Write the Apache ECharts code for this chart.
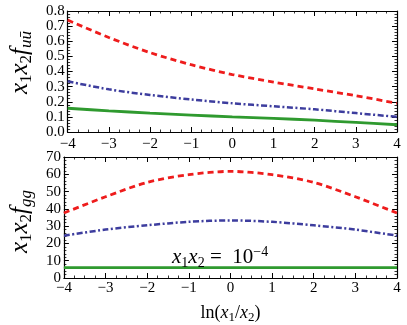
<!DOCTYPE html>
<html><head><meta charset="utf-8">
<script src="https://cdn.jsdelivr.net/npm/echarts@6/dist/echarts.min.js"></script>
<style>html,body{margin:0;padding:0;background:#fff}#c{width:407px;height:325px}</style>
</head><body><div id="c"></div>
<script>
// ---- data ----
const xVals = [-4, -3, -2, -1, 0, 1, 2, 3, 4];
const uuRed   = [0.74, 0.625, 0.525, 0.445, 0.38, 0.33, 0.285, 0.24, 0.19];
const uuBlue  = [0.335, 0.282, 0.245, 0.215, 0.19, 0.17, 0.15, 0.125, 0.10];
const uuGreen = [0.157, 0.14, 0.125, 0.112, 0.10, 0.09, 0.078, 0.063, 0.048];
const ggRed   = [37.6, 47, 55.3, 59.8, 61.7, 59.8, 55.3, 47, 37.6];
const ggBlue  = [24.5, 28, 30.5, 32.5, 33.3, 32.5, 30.5, 28, 24.5];
const ggGreen = [6, 6, 6, 6, 6, 6, 6, 6, 6];
const xRange = [-4, 4];
const uuRange = [0, 0.8];
const ggRange = [0, 70];

// ---- styling ----
const FONT = 'Liberation Serif';
const RED = '#ee1c1c', BLUE = '#3d3d9e', GREEN = '#2f9a2f';
const fmtMinus = v => String(v).replace('-', '\u2212');
const mathRich = (main, sub) => ({
  n: {fontFamily: FONT, fontSize: main, lineHeight: main + 4, color: '#000', verticalAlign: 'middle'},
  i: {fontFamily: FONT, fontStyle: 'italic', fontSize: main, lineHeight: main + 4, color: '#000', verticalAlign: 'middle'},
  s: {fontFamily: FONT, fontStyle: 'italic', fontSize: sub, lineHeight: sub, color: '#000', verticalAlign: 'bottom'},
  sn: {fontFamily: FONT, fontSize: sub, lineHeight: sub, color: '#000', verticalAlign: 'bottom'},
  p: {fontFamily: FONT, fontSize: sub, lineHeight: sub, color: '#000', verticalAlign: 'top'}
});
const axLine = {show: true, onZero: false, lineStyle: {color: '#000', width: 1.2}};
const tick = {show: true, inside: true, length: 5, lineStyle: {color: '#000', width: 1}};
const minor = n => ({show: true, splitNumber: n, length: 2.5, lineStyle: {color: '#000', width: 0.8}});

function xAxis(grid, pos, labels, margin, name) {
  return {
    type: 'value', gridIndex: grid, position: pos, min: xRange[0], max: xRange[1], interval: 1,
    axisLine: axLine, axisTick: tick, minorTick: minor(4), splitLine: {show: false},
    axisLabel: {show: labels, margin: margin, fontFamily: FONT, fontSize: 15, color: '#000', formatter: fmtMinus},
    name: name || '', nameLocation: 'middle', nameGap: 24,
    nameTextStyle: {rich: mathRich(18, 13)}
  };
}
function yAxis(grid, pos, labels, range, interval, dec, name, pad) {
  return {
    type: 'value', gridIndex: grid, position: pos, min: range[0], max: range[1], interval: interval,
    axisLine: axLine, axisTick: tick, minorTick: minor(5), splitLine: {show: false},
    axisLabel: {show: labels, margin: 3, fontFamily: FONT, fontSize: 15, color: '#000',
      formatter: v => v.toFixed(dec)},
    name: name || '', nameLocation: 'middle', nameGap: 26, nameRotate: 90,
    nameTextStyle: {rich: mathRich(25, 17), padding: pad || 0}
  };
}
const pairs = ys => xVals.map((x, k) => [x, ys[k]]);
function line(data, xi, yi, color, type, width) {
  return {type: 'line', xAxisIndex: xi, yAxisIndex: yi, data: pairs(data), smooth: 0.3,
    showSymbol: false, symbol: 'none',
    lineStyle: {color: color, width: width, type: type}, z: 3};
}

const chart = echarts.init(document.getElementById('c'), null, {renderer: 'canvas'});
chart.setOption({
  animation: false,
  backgroundColor: '#fff',
  grid: [
    {left: 49, right: 10, top: 11, height: 121},
    {left: 49, right: 10, top: 157, height: 123}
  ],
  xAxis: [
    xAxis(0, 'bottom', true, 5),
    xAxis(0, 'top', false, 3),
    xAxis(1, 'bottom', true, 3, '{n|ln(}{i|x}{sn|1}{n|/}{i|x}{sn|2}{n|)}'),
    xAxis(1, 'top', false, 3)
  ],
  yAxis: [
    yAxis(0, 'left', true, uuRange, 0.1, 1, '{i|x}{sn|1}{i|x}{sn|2}{i|f}{s|u\u016B}', [0, 0, 0, 18]),
    yAxis(0, 'right', false, uuRange, 0.1, 1),
    yAxis(1, 'left', true, ggRange, 10, 0, '{i|x}{sn|1}{i|x}{sn|2}{i|f}{s|gg}', [0, 8, 0, 0]),
    yAxis(1, 'right', false, ggRange, 10, 0)
  ],
  graphic: [{
    type: 'text', left: 172, top: 245, z: 10,
    style: {text: '{i|x}{sn|1}{i|x}{sn|2}{n| =  10}{p|\u22124}', rich: mathRich(21, 14)}
  }],
  series: [
    line(uuRed, 0, 0, RED, [6, 4], 2.8),
    line(uuBlue, 0, 0, BLUE, [6, 2.5, 2, 2.5], 2.5),
    line(uuGreen, 0, 0, GREEN, 'solid', 2.8),
    line(ggRed, 2, 2, RED, [6, 4], 2.8),
    line(ggBlue, 2, 2, BLUE, [6, 2.5, 2, 2.5], 2.5),
    line(ggGreen, 2, 2, GREEN, 'solid', 2.8)
  ]
});
</script></body></html>
